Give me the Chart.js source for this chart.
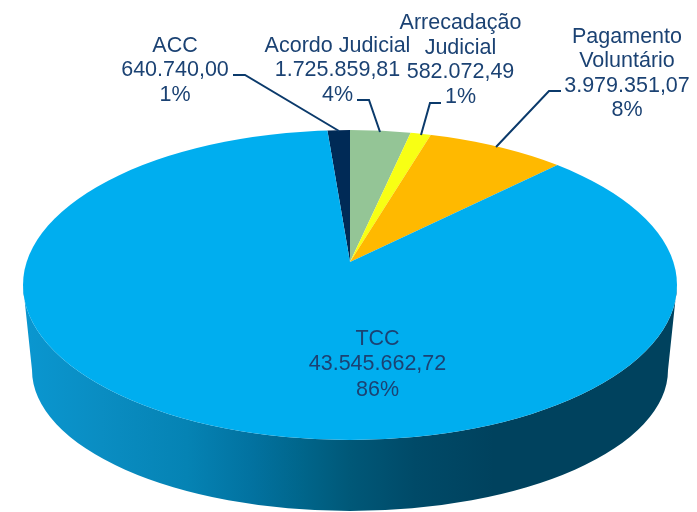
<!DOCTYPE html>
<html><head><meta charset="utf-8">
<style>html,body{margin:0;padding:0;background:#fff}canvas{display:block}</style>
<script src="https://cdn.jsdelivr.net/npm/chart.js@4"></script>
</head><body>
<canvas id="c" width="697" height="512"></canvas>
<script>
const categories = ['ACC','Acordo Judicial','Arrecadação Judicial','Pagamento Voluntário','TCC'];
const values = [640740.00,1725859.81,582072.49,3979351.07,43545662.72];
const percentLabels = ['1%','4%','1%','8%','86%'];
const colors = ['#002A56','#94C596','#F8FF14','#FFB900','#00AEEF'];

const fmt = v => v.toLocaleString('pt-BR',{minimumFractionDigits:2,maximumFractionDigits:2});
const total = values.reduce((a,b)=>a+b,0);

// page layout of the drawing
const apex = {x:350,y:262}, squash = 0.465;
const top3d = {x:350,y:285,rx:327,ry:155};
const bot3d = {x:350,y:370,rx:318,ry:141};
const sideStops = [[0.01,'#0A96CF'],[0.12,'#0A8DC2'],[0.25,'#0583B4'],[0.35,'#0272A0'],[0.43,'#00658A'],[0.5,'#005878'],[0.6,'#004A68'],[0.72,'#00425E'],[1,'#00425E']];
const labelLayout = [
 {x:175,ys:[52,76,101],lines:['ACC'],leader:[[233,75],[245,75],[339,131]]},
 {x:337.5,ys:[52,76,101],lines:['Acordo Judicial'],leader:[[357,100],[369,100],[380,132]]},
 {x:460.5,ys:[29,54,78,103],lines:['Arrecadação','Judicial'],leader:[[441,103],[430,103],[421,135]]},
 {x:627,ys:[43,67,92,116],lines:['Pagamento','Voluntário'],leader:[[561,91],[549,91],[496,147]]},
 {x:377.5,ys:[345,370,396],lines:['TCC'],leader:null}
];

const pie3d = {
 id:'pie3d',
 beforeDatasetsDraw(chart){
  const ctx = chart.ctx, arc = chart.getDatasetMeta(0).data[0];
  // side wall
  ctx.save();
  const g = ctx.createLinearGradient(top3d.x-top3d.rx,0,top3d.x+top3d.rx,0);
  sideStops.forEach(s=>g.addColorStop(s[0],s[1]));
  ctx.fillStyle = g;
  ctx.beginPath();
  ctx.ellipse(top3d.x,top3d.y,top3d.rx,top3d.ry,0,0,Math.PI);
  ctx.lineTo(bot3d.x-bot3d.rx,bot3d.y);
  ctx.ellipse(bot3d.x,bot3d.y,bot3d.rx,bot3d.ry,0,Math.PI,0,true);
  ctx.closePath();
  ctx.fill();
  ctx.restore();
  // top face: library arcs, projected and trimmed to the perspective outline
  ctx.save();
  ctx.beginPath();
  ctx.ellipse(top3d.x,top3d.y,top3d.rx,top3d.ry,0,0,Math.PI*2);
  ctx.clip();
  const k = 450/arc.outerRadius;
  ctx.translate(apex.x,apex.y);
  ctx.scale(k,k*squash);
  ctx.translate(-arc.x,-arc.y);
 },
 afterDatasetsDraw(chart){
  const ctx = chart.ctx;
  ctx.restore();
  ctx.save();
  ctx.strokeStyle = '#0B3A6B';
  ctx.lineWidth = 2;
  ctx.fillStyle = '#1B4273';
  ctx.font = '21.5px "Liberation Sans", Arial, sans-serif';
  ctx.textAlign = 'center';
  ctx.textBaseline = 'alphabetic';
  labelLayout.forEach((l,i)=>{
    const text = [...l.lines, fmt(values[i]), percentLabels[i]];
    text.forEach((t,j)=>ctx.fillText(t,l.x,l.ys[j]));
    if(l.leader){
      ctx.beginPath();
      l.leader.forEach((p,j)=> j?ctx.lineTo(p[0],p[1]):ctx.moveTo(p[0],p[1]));
      ctx.stroke();
    }
  });
  ctx.restore();
 }
};

new Chart(document.getElementById('c'),{
 type:'pie',
 data:{labels:categories,datasets:[{data:values,backgroundColor:colors,borderWidth:0,clip:false}]},
 options:{
  responsive:false,animation:false,
  rotation:-(values[0]/total*360),
  plugins:{legend:{display:false},tooltip:{enabled:false}}
 },
 plugins:[pie3d]
});
</script>
</body></html>
